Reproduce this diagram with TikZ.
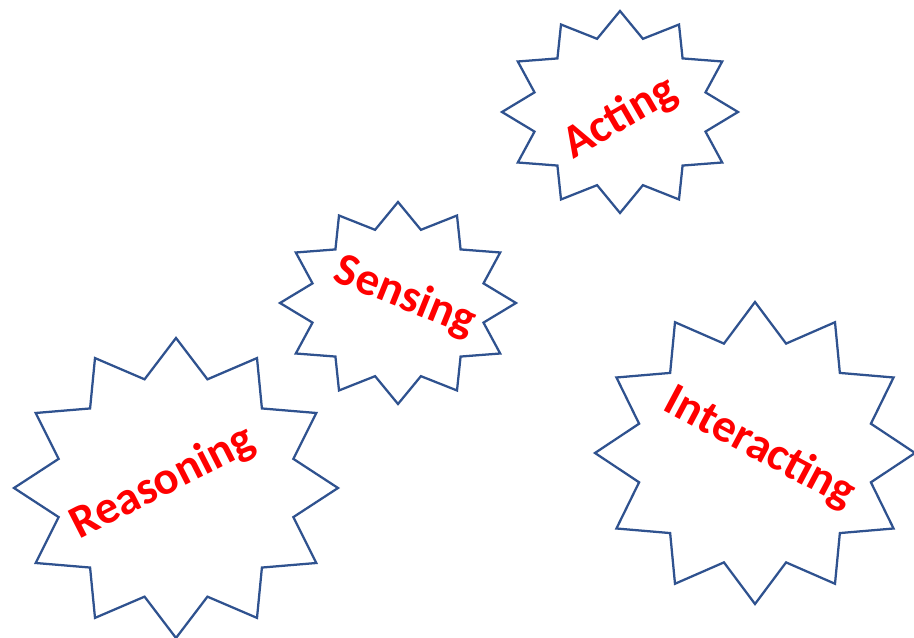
\documentclass[tikz,border=0pt]{standalone}
\usepackage{fontspec}
\setmainfont{Carlito}
\usetikzlibrary{positioning}
\definecolor{BurstBlue}{RGB}{47,82,143}
\definecolor{WordRed}{RGB}{255,0,0}
\tikzset{
  burst/.style={draw=BurstBlue,line width=1.7pt,line join=miter},
  burstword/.style={text=WordRed,font=\bfseries\fontsize{35}{40}\selectfont,
    inner sep=0pt,anchor=center}
}

\begin{document}
\begin{tikzpicture}[x=0.75pt,y=0.75pt]
  \useasboundingbox (0,0) rectangle (914,638);
  \coordinate (acting) at (620,526);
  \coordinate (sensing) at (398,335);
  \coordinate (reasoning) at (176,150);
  \coordinate (interacting) at (755,185);
  \foreach \c/\rx/\ry in {acting/118/101,sensing/118/101,reasoning/162/150,interacting/160/151}
    \draw[burst,shift={(\c)}] (0:{\rx} and {\ry})
      \foreach \a in {30,60,...,330}{ -- (\a-15:{0.75*\rx} and {0.75*\ry}) -- (\a:{\rx} and {\ry})}
      -- (345:{0.75*\rx} and {0.75*\ry}) -- cycle;
  \node[burstword,rotate=30] (actingword) at (620,520) {Acting};
  \node[burstword,rotate=-22] (sensingword) at (405,341) {Sensing};
  \node[burstword,rotate=27] (reasoningword) at (163,155) {Reasoning};
  \node[burstword,rotate=-28] (interactingword) at (760,190) {Interacting};
\end{tikzpicture}
\end{document}
